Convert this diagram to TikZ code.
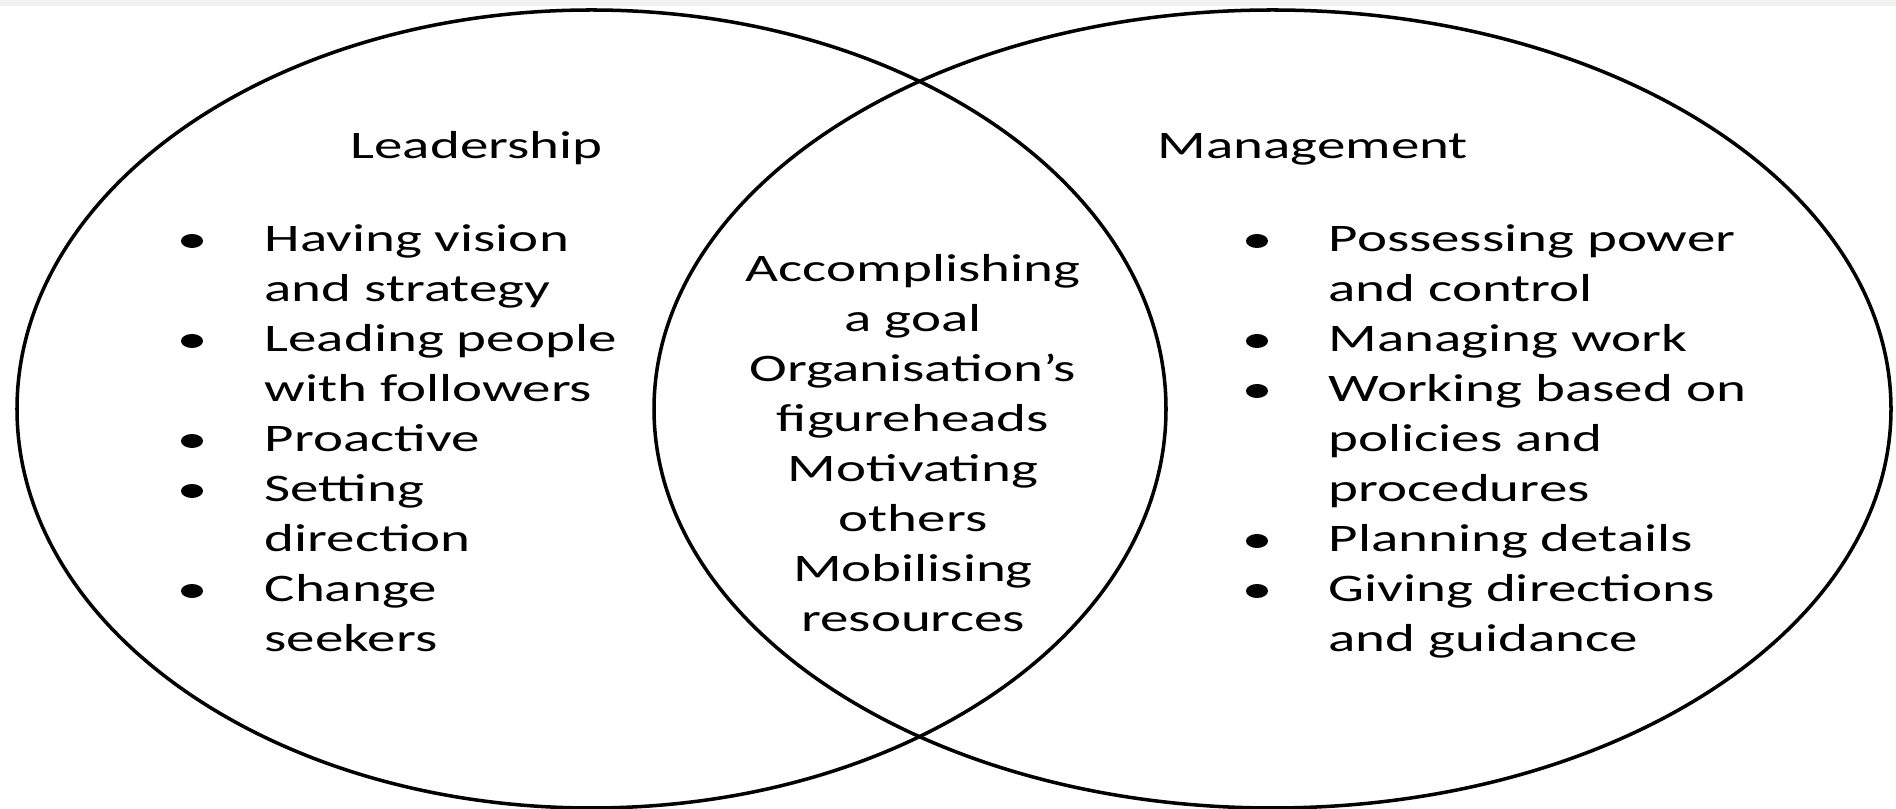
\documentclass[tikz,border=0pt]{standalone}
\usepackage{fontspec}
\setmainfont{Carlito}[FakeStretch=1.46]
\usetikzlibrary{shapes.geometric}
\newcommand{\vennfont}{\fontsize{11.1pt}{14.2pt}\selectfont}
\begin{document}
\begin{tikzpicture}[
    venn/.style ={line width=1pt},
    item/.style ={anchor=base west, inner sep=0pt, font=\vennfont},
    middle/.style ={anchor=base, inner sep=0pt, font=\vennfont},
    bulletdot/.style ={ellipse, fill, minimum width=0.22cm, minimum height=0.14cm, inner sep=0pt}]
   \useasboundingbox (0,0) rectangle (18.96,-8.09);
   \fill[black!5] (0,0) rectangle (18.96,-0.06);

   % the two sets
   \draw[venn] (5.915,-4.09) ellipse [x radius=5.745cm, y radius=3.99cm];
   \draw[venn] (12.725,-4.09) ellipse [x radius=6.185cm, y radius=3.99cm];

   % titles
   \node[item] (lead) at (3.50,-1.59) {Leadership};
   \node[item] (mgmt) at (11.57,-1.59) {Management};

   % leadership
   \node[bulletdot] (LB1) at (1.92,-2.41) {};
   \node[bulletdot] (LB2) at (1.92,-3.41) {};
   \node[bulletdot] (LB3) at (1.92,-4.41) {};
   \node[bulletdot] (LB4) at (1.92,-4.91) {};
   \node[bulletdot] (LB5) at (1.92,-5.91) {};
   \node[item] (L1) at (2.64,-2.52) {Having vision};
   \node[item] (L2) at (2.64,-3.02) {and strategy};
   \node[item] (L3) at (2.64,-3.52) {Leading people};
   \node[item] (L4) at (2.64,-4.02) {with followers};
   \node[item] (L5) at (2.64,-4.52) {Proactive};
   \node[item] (L6) at (2.64,-5.02) {Setting};
   \node[item] (L7) at (2.64,-5.52) {direction};
   \node[item] (L8) at (2.64,-6.02) {Change};
   \node[item] (L9) at (2.64,-6.52) {seekers};

   % overlap
   \node[middle] (C1) at (9.13,-2.82) {Accomplishing};
   \node[middle] (C2) at (9.13,-3.32) {a goal};
   \node[middle] (C3) at (9.13,-3.82) {Organisation’s};
   \node[middle] (C4) at (9.13,-4.32) {figureheads};
   \node[middle] (C5) at (9.13,-4.82) {Motivating};
   \node[middle] (C6) at (9.13,-5.32) {others};
   \node[middle] (C7) at (9.13,-5.82) {Mobilising};
   \node[middle] (C8) at (9.13,-6.32) {resources};

   % management
   \node[bulletdot] (MB1) at (12.57,-2.41) {};
   \node[bulletdot] (MB2) at (12.57,-3.41) {};
   \node[bulletdot] (MB3) at (12.57,-3.91) {};
   \node[bulletdot] (MB4) at (12.57,-5.41) {};
   \node[bulletdot] (MB5) at (12.57,-5.91) {};
   \node[item] (M1) at (13.28,-2.52) {Possessing power};
   \node[item] (M2) at (13.28,-3.02) {and control};
   \node[item] (M3) at (13.28,-3.52) {Managing work};
   \node[item] (M4) at (13.28,-4.02) {Working based on};
   \node[item] (M5) at (13.28,-4.52) {policies and};
   \node[item] (M6) at (13.28,-5.02) {procedures};
   \node[item] (M7) at (13.28,-5.52) {Planning details};
   \node[item] (M8) at (13.28,-6.02) {Giving directions};
   \node[item] (M9) at (13.28,-6.52) {and guidance};
\end{tikzpicture}
\end{document}
